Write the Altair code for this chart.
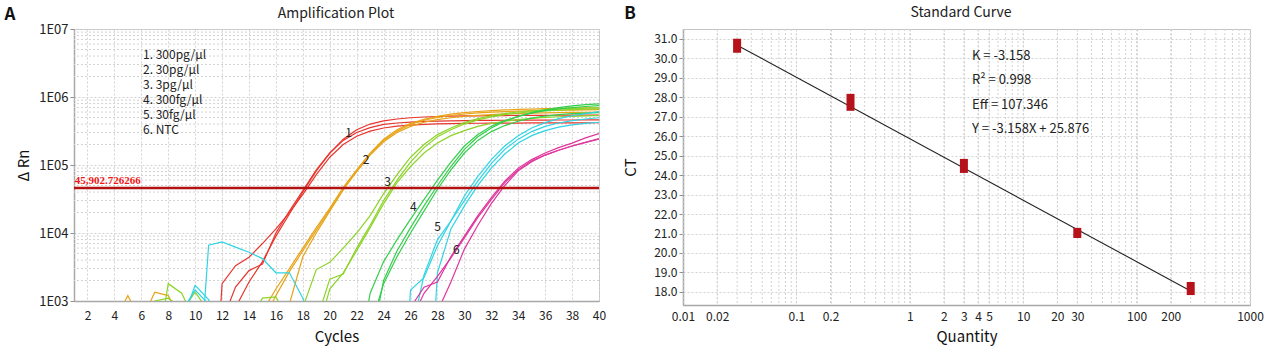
import altair as alt
import pandas as pd

FONT = "Noto Sans CJK SC"

# ---------------- Panel A data (amplification curves) ----------------
groups = ["1", "2", "3", "4", "5", "6"]
group_colors = ["#e8362e", "#e8a418", "#8cd428", "#34cf4c", "#30d4e4", "#e0359e"]

# each trace: (group, first cycle, values per cycle)
red_1 = ("1", 11, [1, 1800, 3300, 4400, 7000, 11500, 20000, 37000, 72000, 130000, 200000, 265000, 315000,
                   350000, 372000, 387000, 396000, 402000, 406000, 409000, 411000, 412000, 413000, 414000,
                   415000, 416000, 416000, 417000, 417000, 418000])
red_2 = ("1", 12, [500, 1600, 2800, 3500, 10000, 21000, 42000, 85000, 150000, 230000, 300000, 355000, 395000,
                   415000, 428000, 437000, 443000, 447000, 450000, 452000, 454000, 455000, 456000, 457000,
                   458000, 459000, 459000, 460000, 460000])
red_3 = ("1", 13, [800, 1900, 3800, 9000, 19000, 40000, 82000, 150000, 240000, 330000, 400000, 445000, 475000,
                   495000, 508000, 516000, 522000, 526000, 529000, 532000, 534000, 536000, 537000, 538000,
                   539000, 540000, 541000, 542000])
orange_1 = ("2", 15, [700, 1500, 3000, 6000, 12000, 23000, 47000, 85000, 150000, 240000, 330000, 410000, 470000,
                      520000, 560000, 590000, 612000, 630000, 645000, 656000, 665000, 673000, 680000, 685000,
                      690000, 695000])
orange_2 = ("2", 15, [500, 1200, 2700, 5500, 11000, 22000, 44000, 80000, 140000, 220000, 300000, 370000, 425000,
                      465000, 495000, 520000, 538000, 552000, 563000, 572000, 579000, 585000, 590000, 594000,
                      597000, 600000])
orange_3 = ("2", 16, [100, 900, 4500, 10000, 21000, 43000, 82000, 145000, 230000, 315000, 395000, 455000, 500000,
                      535000, 562000, 583000, 598000, 610000, 620000, 628000, 634000, 639000, 643000, 647000,
                      650000])
orange_n1 = ("2", 4, [500, 1200, 500])
orange_n2 = ("2", 6, [500, 1350, 1200, 500])
ygreen_1 = ("3", 18, [800, 2900, 3700, 6000, 10000, 18000, 38000, 72000, 130000, 200000, 280000, 350000, 420000,
                      480000, 530000, 570000, 602000, 627000, 647000, 662000, 674000, 684000, 692000])
ygreen_2 = ("3", 19, [500, 2100, 2500, 6000, 13000, 30000, 60000, 110000, 180000, 260000, 330000, 400000, 460000,
                      510000, 550000, 582000, 607000, 626000, 640000, 651000, 660000, 667000])
ygreen_3 = ("3", 19, [300, 1500, 2600, 5500, 12000, 27000, 55000, 95000, 150000, 210000, 270000, 320000, 370000,
                      410000, 440000, 465000, 485000, 500000, 512000, 520000, 527000, 533000])
ygreen_n1 = ("3", 7, [100, 1800, 1300, 500])
ygreen_n2 = ("3", 9, [700, 1350, 700])
ygreen_n3 = ("3", 14, [500, 1100, 1150, 500])
ygreen_n4 = ("3", 6, [700, 1000, 1100, 800])
green_1 = ("4", 22, [100, 1300, 3800, 8000, 16000, 31000, 60000, 110000, 190000, 280000, 370000, 450000, 520000,
                     580000, 630000, 670000, 700000, 725000, 745000])
green_2 = ("4", 23, [200, 2000, 5500, 12000, 25000, 50000, 95000, 170000, 260000, 350000, 440000, 520000, 590000,
                     650000, 700000, 740000, 770000, 790000])
green_3 = ("4", 23, [400, 1800, 4500, 10000, 21000, 44000, 85000, 150000, 230000, 310000, 380000, 440000, 490000,
                     525000, 550000, 568000, 580000, 590000])
cyan_1 = ("5", 25, [1, 1450, 2200, 6500, 15000, 35000, 68000, 120000, 190000, 270000, 350000, 420000, 480000,
                    530000, 570000, 610000])
cyan_2 = ("5", 26, [300, 2400, 8000, 15000, 30000, 58000, 105000, 170000, 240000, 310000, 370000, 415000, 450000,
                    475000, 495000])
cyan_3 = ("5", 27, [1, 2600, 11500, 25000, 50000, 90000, 145000, 210000, 270000, 320000, 360000, 390000, 410000,
                    425000])
cyan_n1 = ("5", 10, [10, 6600, 7400, 6200, 5200, 4200, 2600, 2600, 1100, 300])
cyan_n2 = ("5", 9, [500, 1700, 1050, 300])
cyan_n3 = ("5", 9, [700, 1450, 900])
magenta_1 = ("6", 26, [800, 1600, 1900, 4500, 9000, 18000, 33000, 58000, 90000, 120000, 150000, 180000, 210000,
                       250000, 290000])
magenta_2 = ("6", 26, [500, 1300, 2300, 4300, 8500, 17000, 31000, 55000, 85000, 115000, 140000, 165000, 190000,
                       215000, 240000])
magenta_3 = ("6", 28, [700, 1900, 5800, 13000, 27000, 50000, 82000, 112000, 140000, 165000, 190000, 215000,
                       245000])

traces = [red_1, red_2, red_3, orange_1, orange_2, orange_3, orange_n1, orange_n2,
          ygreen_1, ygreen_2, ygreen_3, ygreen_n1, ygreen_n2, ygreen_n3, ygreen_n4,
          green_1, green_2, green_3, cyan_1, cyan_2, cyan_3, cyan_n1, cyan_n2, cyan_n3,
          magenta_1, magenta_2, magenta_3]

threshold = 45902.726266
threshold_label = "45,902.726266"

curve_label_text = ["1", "2", "3", "4", "5", "6"]
curve_label_cycle = [21.4, 22.7, 24.3, 26.2, 28.0, 29.4]
curve_label_value = [300000, 118000, 56000, 24000, 12300, 5600]

legend_lines = ["1. 300pg/µl", "2. 30pg/µl", "3. 3pg/µl", "4. 300fg/µl", "5. 30fg/µl", "6. NTC"]

x_ticks_a = list(range(2, 41, 2))
y_major_a = [1e3, 1e4, 1e5, 1e6, 1e7]
y_minor_a = [m * 10 ** e for e in range(3, 7) for m in range(2, 10)]

# ---------------- Panel B data (standard curve) ----------------
quantity = [0.03, 0.3, 3, 30, 300]
ct_high = [31.0, 28.17, 24.83, 21.29, 18.51]
ct_low = [30.28, 27.30, 24.11, 20.77, 17.84]
fit_qty = [0.03, 300]
fit_ct = [30.67, 18.05]
stats_lines = ["K = -3.158", "R² = 0.998", "Eff = 107.346", "Y = -3.158X + 25.876"]

x_labels_b = [0.01, 0.02, 0.1, 0.2, 1, 2, 3, 4, 5, 10, 20, 30, 100, 200, 1000]
x_minor_b = [m * 10.0 ** e for e in range(-2, 3) for m in range(1, 10)] + [1000]
y_ticks_b = list(range(18, 32))

# ---------------- build panel A ----------------
rows = []
for i, (g, start, vals) in enumerate(traces):
    for k, v in enumerate(vals):
        rows.append({"trace": i, "group": g, "cycle": start + k, "value": v})
df_curves = pd.DataFrame(rows)

GRID = "#d2d2d2"
DASH = [2, 2]

xA = alt.X("cycle:Q", scale=alt.Scale(domain=[1, 40], nice=False, zero=False),
           axis=alt.Axis(values=x_ticks_a, title="Cycles", grid=True, gridColor=GRID, gridDash=DASH,
                         ticks=False, labelPadding=9, titlePadding=8, labelFlush=False))
yA = alt.Y("value:Q", scale=alt.Scale(type="log", domain=[1e3, 1e7], nice=False),
           axis=alt.Axis(values=y_major_a, title="Δ Rn", grid=True, gridColor=GRID, gridDash=DASH,
                         labelExpr="'1E0' + format(log(datum.value) / LN10, '.0f')",
                         labelFontSize=13, tickSize=4, labelPadding=2, titlePadding=7))

minor_a = alt.Chart(pd.DataFrame({"value": y_minor_a})).mark_rule(
    color=GRID, strokeDash=DASH, strokeWidth=1).encode(y=yA)

lines_a = alt.Chart(df_curves).mark_line(strokeWidth=1.2, clip=True).encode(
    x=xA, y=yA,
    color=alt.Color("group:N", scale=alt.Scale(domain=groups, range=group_colors), legend=None),
    detail="trace:N")

thr_rule = alt.Chart(pd.DataFrame({"value": [threshold]})).mark_rule(
    color="#b31212", strokeWidth=2.5).encode(y=yA)

thr_text = alt.Chart(pd.DataFrame({"value": [threshold], "cycle": [1.05], "t": [threshold_label]})).mark_text(
    font="Liberation Serif", fontWeight="bold", fontSize=11, color="#f01818",
    align="left", baseline="bottom", dy=-2).encode(x=xA, y=yA, text="t:N")

curve_labels = alt.Chart(pd.DataFrame({"cycle": curve_label_cycle, "value": curve_label_value,
                                       "t": curve_label_text})).mark_text(
    font=FONT, fontSize=12, color="#222222").encode(x=xA, y=yA, text="t:N")

one = pd.DataFrame({"a": [0]})
legend_a = alt.Chart(one).mark_text(font=FONT, fontSize=12, color="#222222", align="left",
                                    baseline="top", lineHeight=15).encode(
    x=alt.value(69), y=alt.value(21), text=alt.value(legend_lines))
title_a = alt.Chart(one).mark_text(font=FONT, fontSize=14, color="#222222").encode(
    x=alt.value(262), y=alt.value(-15), text=alt.value("Amplification Plot"))
letter_a = alt.Chart(one).mark_text(font=FONT, fontSize=17, fontWeight="bold", color="#111111").encode(
    x=alt.value(-64), y=alt.value(-14), text=alt.value("A"))

panel_a = alt.layer(minor_a, lines_a, thr_rule, thr_text, curve_labels, legend_a, title_a, letter_a).properties(
    width=525, height=272)

# ---------------- build panel B ----------------
xB = alt.X("qty:Q", scale=alt.Scale(type="log", domain=[0.01, 1000], nice=False),
           axis=alt.Axis(values=x_labels_b, title="Quantity", grid=True, gridColor=GRID, gridDash=DASH,
                         labelExpr="format(datum.value, '~g')", ticks=False, labelPadding=6,
                         titlePadding=7, labelFlush=False))
yB = alt.Y("ct:Q", scale=alt.Scale(domain=[17.33, 31.5], nice=False, zero=False),
           axis=alt.Axis(values=y_ticks_b, format=".1f", title="CT", grid=True, gridColor=GRID,
                         gridDash=DASH, tickSize=4, labelPadding=2, titlePadding=15))

minor_b = alt.Chart(pd.DataFrame({"qty": x_minor_b})).mark_rule(
    color=GRID, strokeDash=DASH, strokeWidth=1).encode(x=xB)

fit_b = alt.Chart(pd.DataFrame({"qty": fit_qty, "ct": fit_ct})).mark_line(
    color="#222222", strokeWidth=1.1).encode(x=xB, y=yB)

points_b = alt.Chart(pd.DataFrame({"qty": quantity, "ct": ct_low, "ct2": ct_high})).mark_rule(
    color="#b5121b", strokeWidth=8).encode(x=xB, y=yB, y2="ct2:Q")

stats_b = alt.Chart(one).mark_text(font=FONT, fontSize=13, color="#222222", align="left",
                                   baseline="top", lineHeight=24.3).encode(
    x=alt.value(289), y=alt.value(21), text=alt.value(stats_lines))
title_b = alt.Chart(one).mark_text(font=FONT, fontSize=14, color="#222222").encode(
    x=alt.value(278), y=alt.value(-16), text=alt.value("Standard Curve"))
letter_b = alt.Chart(one).mark_text(font=FONT, fontSize=17, fontWeight="bold", color="#111111").encode(
    x=alt.value(-53), y=alt.value(-15), text=alt.value("B"))

panel_b = alt.layer(minor_b, fit_b, points_b, stats_b, title_b, letter_b).properties(width=567, height=276)

chart = alt.hconcat(panel_a, panel_b, spacing=16).properties(
    padding={"left": 4, "top": 4, "right": 5, "bottom": 5}
).configure_view(stroke="#c4c4c4", strokeWidth=1).configure_axis(
    labelFont=FONT, titleFont=FONT, labelFontSize=12, titleFontSize=15, titleFontWeight="normal",
    labelColor="#222222", titleColor="#111111", domainColor="#a8a8a8", domainWidth=1.5,
    tickColor="#909090")

chart.save("out.html", embed_options={"renderer": "svg", "actions": False})
